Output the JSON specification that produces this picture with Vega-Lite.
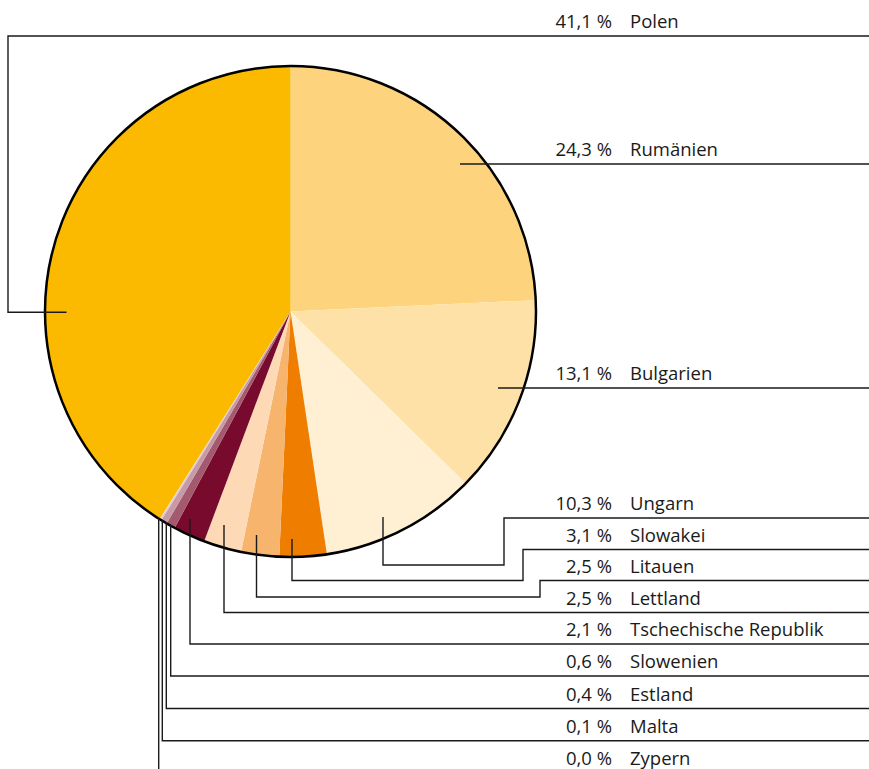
{
  "$schema": "https://vega.github.io/schema/vega-lite/v6.json",
  "width": 869,
  "height": 769,
  "autosize": "none",
  "padding": 0,
  "background": "white",
  "config": {"view": {"stroke": null}},
  "datasets": {
    "shares": [
      {"land": "Rumänien", "anteil": 24.3, "label": "24,3 %", "ord": 1, "labelY": 164},
      {"land": "Bulgarien", "anteil": 13.1, "label": "13,1 %", "ord": 2, "labelY": 388},
      {"land": "Ungarn", "anteil": 10.3, "label": "10,3 %", "ord": 3, "labelY": 518},
      {"land": "Slowakei", "anteil": 3.1, "label": "3,1 %", "ord": 4, "labelY": 549.5},
      {"land": "Litauen", "anteil": 2.5, "label": "2,5 %", "ord": 5, "labelY": 580.5},
      {"land": "Lettland", "anteil": 2.5, "label": "2,5 %", "ord": 6, "labelY": 612.5},
      {"land": "Tschechische Republik", "anteil": 2.1, "label": "2,1 %", "ord": 7, "labelY": 644},
      {"land": "Slowenien", "anteil": 0.6, "label": "0,6 %", "ord": 8, "labelY": 676},
      {"land": "Estland", "anteil": 0.4, "label": "0,4 %", "ord": 9, "labelY": 708.5},
      {"land": "Malta", "anteil": 0.1, "label": "0,1 %", "ord": 10, "labelY": 740.7},
      {"land": "Zypern", "anteil": 0.04, "label": "0,0 %", "ord": 11, "labelY": 773},
      {"land": "Polen", "anteil": 41.1, "label": "41,1 %", "ord": 12, "labelY": 36}
    ],
    "leaders": [
      {"land": "Polen", "seq": 1, "px": 869, "py": 36},
      {"land": "Polen", "seq": 2, "px": 8, "py": 36},
      {"land": "Polen", "seq": 3, "px": 8, "py": 312.3},
      {"land": "Polen", "seq": 4, "px": 66.5, "py": 312.3},
      {"land": "Rumänien", "seq": 1, "px": 869, "py": 164},
      {"land": "Rumänien", "seq": 2, "px": 460, "py": 164},
      {"land": "Bulgarien", "seq": 1, "px": 869, "py": 388},
      {"land": "Bulgarien", "seq": 2, "px": 498, "py": 388},
      {"land": "Ungarn", "seq": 1, "px": 869, "py": 518},
      {"land": "Ungarn", "seq": 2, "px": 504, "py": 518},
      {"land": "Ungarn", "seq": 3, "px": 504, "py": 565},
      {"land": "Ungarn", "seq": 4, "px": 383, "py": 565},
      {"land": "Ungarn", "seq": 5, "px": 383, "py": 517},
      {"land": "Slowakei", "seq": 1, "px": 869, "py": 549.5},
      {"land": "Slowakei", "seq": 2, "px": 523, "py": 549.5},
      {"land": "Slowakei", "seq": 3, "px": 523, "py": 580.5},
      {"land": "Slowakei", "seq": 4, "px": 292, "py": 580.5},
      {"land": "Slowakei", "seq": 5, "px": 292, "py": 539},
      {"land": "Litauen", "seq": 1, "px": 869, "py": 580.5},
      {"land": "Litauen", "seq": 2, "px": 540, "py": 580.5},
      {"land": "Litauen", "seq": 3, "px": 540, "py": 597},
      {"land": "Litauen", "seq": 4, "px": 256.5, "py": 597},
      {"land": "Litauen", "seq": 5, "px": 256.5, "py": 535},
      {"land": "Lettland", "seq": 1, "px": 869, "py": 612.5},
      {"land": "Lettland", "seq": 2, "px": 224, "py": 612.5},
      {"land": "Lettland", "seq": 3, "px": 224, "py": 525},
      {"land": "Tschechische Republik", "seq": 1, "px": 869, "py": 644},
      {"land": "Tschechische Republik", "seq": 2, "px": 190, "py": 644},
      {"land": "Tschechische Republik", "seq": 3, "px": 190, "py": 519},
      {"land": "Slowenien", "seq": 1, "px": 869, "py": 676},
      {"land": "Slowenien", "seq": 2, "px": 170.7, "py": 676},
      {"land": "Slowenien", "seq": 3, "px": 170.7, "py": 525},
      {"land": "Estland", "seq": 1, "px": 869, "py": 708.5},
      {"land": "Estland", "seq": 2, "px": 166.3, "py": 708.5},
      {"land": "Estland", "seq": 3, "px": 166.3, "py": 522},
      {"land": "Malta", "seq": 1, "px": 869, "py": 740.7},
      {"land": "Malta", "seq": 2, "px": 162.3, "py": 740.7},
      {"land": "Malta", "seq": 3, "px": 162.3, "py": 520},
      {"land": "Zypern", "seq": 1, "px": 158.7, "py": 775},
      {"land": "Zypern", "seq": 2, "px": 158.7, "py": 518}
    ]
  },
  "resolve": {"scale": {"x": "shared", "y": "shared"}},
  "layer": [
    {
      "data": {"name": "shares"},
      "mark": {"type": "arc", "outerRadius": 245.5, "stroke": null},
      "encoding": {
        "x": {"datum": 290.5, "type": "quantitative", "scale": {"domain": [0, 869], "nice": false, "zero": false}, "axis": null},
        "y": {"datum": 311.5, "type": "quantitative", "scale": {"domain": [0, 769], "nice": false, "zero": false, "reverse": true}, "axis": null},
        "theta": {"field": "anteil", "type": "quantitative", "stack": true},
        "order": {"field": "ord", "type": "quantitative"},
        "color": {
          "field": "land", "type": "nominal", "legend": null,
          "scale": {
            "domain": ["Polen", "Rumänien", "Bulgarien", "Ungarn", "Slowakei", "Litauen", "Lettland", "Tschechische Republik", "Slowenien", "Estland", "Malta", "Zypern"],
            "range": ["#FBB900", "#FDD47D", "#FEE1A6", "#FFF0D4", "#EE7D00", "#F7B46D", "#FDD9B6", "#780A2E", "#A35A6E", "#C89AA8", "#DDC3CC", "#EEE0E5"]
          }
        }
      }
    },
    {
      "data": {"values": [{"kreis": "Umriss"}]},
      "mark": {"type": "arc", "outerRadius": 245.5, "theta": 0, "theta2": 6.2832, "fill": null, "fillOpacity": 0, "stroke": "#000000", "strokeWidth": 2.5},
      "encoding": {
        "x": {"datum": 290.5, "type": "quantitative"},
        "y": {"datum": 311.5, "type": "quantitative"}
      }
    },
    {
      "data": {"name": "leaders"},
      "mark": {"type": "line", "stroke": "#1a1a1a", "strokeWidth": 1.4, "interpolate": "linear"},
      "encoding": {
        "x": {"field": "px", "type": "quantitative"},
        "y": {"field": "py", "type": "quantitative"},
        "detail": {"field": "land", "type": "nominal"},
        "order": {"field": "seq", "type": "quantitative"}
      }
    },
    {
      "data": {"name": "shares"},
      "mark": {"type": "text", "align": "right", "baseline": "alphabetic", "font": "Open Sans", "fontSize": 18.5, "color": "#1a1a1a", "dy": -8},
      "encoding": {
        "x": {"datum": 612, "type": "quantitative"},
        "y": {"field": "labelY", "type": "quantitative"},
        "text": {"field": "label", "type": "nominal"}
      }
    },
    {
      "data": {"name": "shares"},
      "mark": {"type": "text", "align": "left", "baseline": "alphabetic", "font": "Open Sans", "fontSize": 18.5, "color": "#1a1a1a", "dy": -8},
      "encoding": {
        "x": {"datum": 630, "type": "quantitative"},
        "y": {"field": "labelY", "type": "quantitative"},
        "text": {"field": "land", "type": "nominal"}
      }
    }
  ]
}
